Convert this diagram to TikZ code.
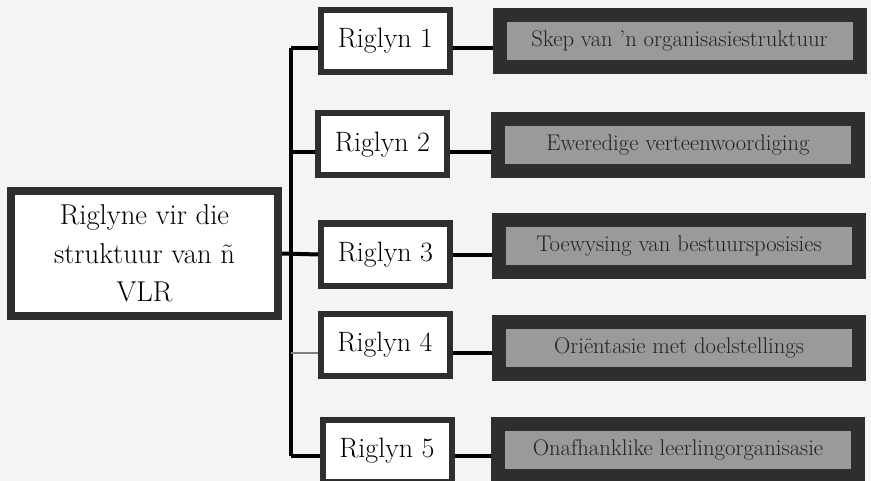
\documentclass[tikz,border=0pt]{standalone}
\definecolor{paper}{HTML}{F4F4F2}
\definecolor{frame}{HTML}{2E2E2E}
\definecolor{slab}{HTML}{9A9A98}
\definecolor{ink}{HTML}{222222}
\begin{document}
\begin{tikzpicture}
[x=0.75pt,y=-0.75pt,
mainnode/.style={rectangle,draw=frame,fill=white,line width=6pt,inner sep=0pt,minimum width=200.25pt,minimum height=93.75pt,align=center,font=\fontsize{21.5}{29}\selectfont},
rignode/.style={rectangle,draw=frame,fill=white,line width=4.5pt,inner sep=0pt,minimum width=96.75pt,minimum height=46.5pt,font=\fontsize{21}{25}\selectfont},
grynode/.style={rectangle,draw=frame,fill=slab,line width=10.5pt,inner sep=0pt,minimum width=270pt,minimum height=39pt,text=ink,font=\fontsize{17}{20}\selectfont},
link/.style={line width=3pt}]
\fill[paper] (0,0) rectangle (871,481);
\useasboundingbox (0,0) rectangle (871,481);

\node (main) at (144.5,253.5) [mainnode] {Riglyne vir die\\struktuur van ñ\\VLR};

\node (r1) at (385.5,41) [rignode] {Riglyn 1};
\node (r2) at (382.5,144.5) [rignode] {Riglyn 2};
\node (r3) at (385.5,254.5) [rignode] {Riglyn 3};
\node (r4) at (385,344.5) [rignode] {Riglyn 4};
\node (r5) at (387,451) [rignode] {Riglyn 5};

\node (g1) at (679.5,41) [grynode] {Skep van ’n organisasiestruktuur};
\node (g2) at (678,145) [grynode] {Eweredige verteenwoordiging};
\node (g3) at (679,246) [grynode] {Toewysing van bestuursposisies};
\node (g4) at (679,347.5) [grynode] {Oriëntasie met doelstellings};
\node (g5) at (678,450) [grynode] {Onafhanklike leerlingorganisasie};

\coordinate (top) at (291,48);
\coordinate (b2) at (291,152);
\coordinate (b4) at (291,353);
\coordinate (bot) at (291,456);

\draw[link] (top) -- (bot);
\draw[link] (top) -- (top -| r1.west);
\draw[link] (b2) -- (b2 -| r2.west);
\draw[link] (main.east) -- (r3.west);
\draw[line width=1.5pt,gray] (b4) -- (b4 -| r4.west);
\draw[link] (bot) -- (bot -| r5.west);

\draw[link] ([yshift=-5pt]r1.east) -- ([yshift=-5pt]r1.east -| g1.west);
\draw[link] ([yshift=-6pt]r2.east) -- ([yshift=-6pt]r2.east -| g2.west);
\draw[link] (r3.east) -- (r3.east -| g3.west);
\draw[link] ([yshift=-6pt]r4.east) -- ([yshift=-6pt]r4.east -| g4.west);
\draw[link] ([yshift=-3.5pt]r5.east) -- ([yshift=-3.5pt]r5.east -| g5.west);

\end{tikzpicture}
\end{document}
